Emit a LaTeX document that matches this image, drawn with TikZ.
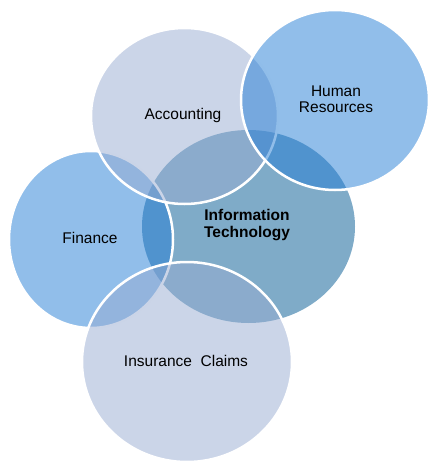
\documentclass[tikz,border=0pt]{standalone}
\usepackage{fontspec}
\setmainfont{Liberation Sans}
\usetikzlibrary{shapes.geometric}
\definecolor{itcol}{RGB}{127,171,200}
\definecolor{bluecol}{RGB}{35,125,213}
\definecolor{graycol}{RGB}{151,171,209}
\tikzset{
  venn/.style={ellipse, draw=white, line width=2.5pt, inner sep=0pt, outer sep=0pt},
  translucent/.style={fill opacity=0.5, draw opacity=1},
  lbl/.style={font=\fontsize{15.5}{16.5}\selectfont, align=center, text=black, inner sep=0pt}
}
\begin{document}
\begin{tikzpicture}[x=1pt,y=-1pt]
\useasboundingbox (0,0) rectangle (438,466);
\node[ellipse, fill=itcol, inner sep=0pt, minimum width=213pt, minimum height=193pt] (it) at (248.5,226.5) {};
\node[venn, translucent, fill=bluecol, minimum width=164pt, minimum height=177pt] (fin) at (91,239.5) {};
\node[venn, translucent, fill=graycol, minimum width=187pt, minimum height=176pt] (acc) at (184.5,116) {};
\node[venn, translucent, fill=bluecol, minimum width=188pt, minimum height=180pt] (hr) at (335,100) {};
\node[venn, translucent, fill=graycol, minimum width=210pt, minimum height=200pt] (ins) at (187,362) {};
\node[lbl] (taccr) at (183,115) {Accounting};
\node[lbl] (thr) at (336,99) {Human\\Resources};
\node[lbl, font=\fontsize{15.5}{16.5}\selectfont\bfseries] (tit) at (247,225) {Information\\Technology};
\node[lbl] (tfin) at (90,238) {Finance};
\node[lbl] (tins) at (186,361) {Insurance\ \ Claims};
\end{tikzpicture}
\end{document}
